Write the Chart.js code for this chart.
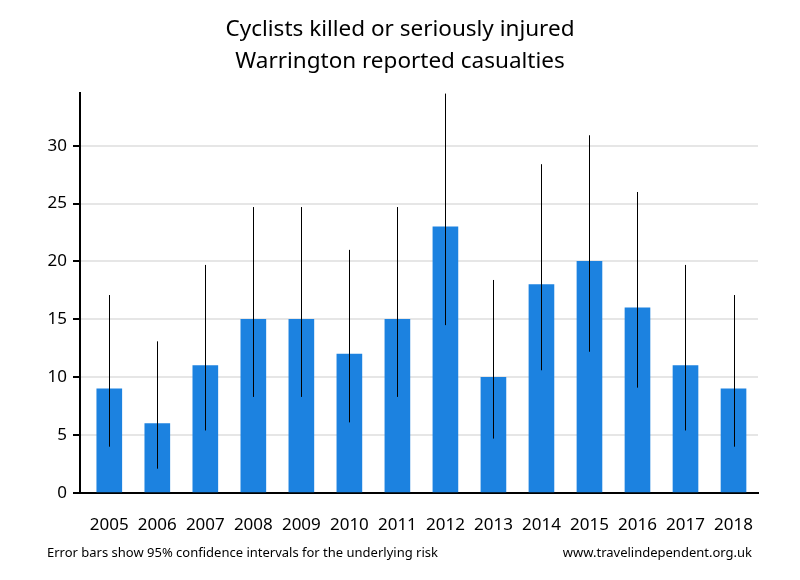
<!DOCTYPE html>
<html>
<head>
<meta charset="utf-8">
<script src="https://cdn.jsdelivr.net/npm/chart.js@4.4.1/dist/chart.umd.min.js"></script>
<style>
  html, body { margin: 0; padding: 0; background: #fff; }
  #wrap { width: 800px; height: 580px; }
</style>
</head>
<body>
<div id="wrap"><canvas id="chart" width="800" height="580"></canvas></div>
<script>
// data
var years = [2005, 2006, 2007, 2008, 2009, 2010, 2011, 2012, 2013, 2014, 2015, 2016, 2017, 2018];
var casualties = [9, 6, 11, 15, 15, 12, 15, 23, 10, 18, 20, 16, 11, 9];
var ciLower = [4.0, 2.1, 5.4, 8.3, 8.3, 6.1, 8.3, 14.5, 4.7, 10.6, 12.2, 9.1, 5.4, 4.0];
var ciUpper = [17.1, 13.1, 19.7, 24.7, 24.7, 21.0, 24.7, 34.5, 18.4, 28.4, 30.9, 26.0, 19.7, 17.1];
var yTicks = [0, 5, 10, 15, 20, 25, 30];
var titleLines = ['Cyclists killed or seriously injured', 'Warrington reported casualties'];

var FONT = "'Noto Sans', 'DejaVu Sans', sans-serif";

// thin black error bars, no caps
var errorBars = {
    id: 'errorBars',
    afterDatasetsDraw: function(chart) {
        var ctx = chart.ctx, xs = chart.scales.x, ys = chart.scales.y, a = chart.chartArea;
        ctx.save();
        ctx.beginPath();
        ctx.rect(a.left, a.top, a.right - a.left, a.bottom - a.top);
        ctx.clip();
        ctx.strokeStyle = '#000';
        ctx.lineWidth = 1;
        for (var i = 0; i < years.length; i++) {
            var x = Math.round(xs.getPixelForValue(years[i])) + 0.5;
            ctx.beginPath();
            ctx.moveTo(x, ys.getPixelForValue(ciLower[i]));
            ctx.lineTo(x, ys.getPixelForValue(ciUpper[i]));
            ctx.stroke();
        }
        ctx.restore();
    }
};

// title centred on the page, footnotes under the axis
var texts = {
    id: 'texts',
    afterDraw: function(chart) {
        var ctx = chart.ctx;
        ctx.save();
        ctx.fillStyle = '#000';
        ctx.textBaseline = 'middle';
        ctx.textAlign = 'center';
        ctx.font = '22.5px ' + FONT;
        ctx.fillText(titleLines[0], 400, 30);
        ctx.fillText(titleLines[1], 400, 62);
        ctx.font = '13px ' + FONT;
        ctx.textAlign = 'left';
        ctx.fillText('Error bars show 95% confidence intervals for the underlying risk', 47, 553);
        ctx.textAlign = 'right';
        ctx.fillText('www.travelindependent.org.uk', 752, 553);
        ctx.restore();
    }
};

var ctx1 = document.getElementById('chart').getContext('2d');
var chart1 = new Chart(ctx1, {
    type: 'bar',
    data: {
        datasets: [{
            label: 'Casualties',
            data: years.map(function(y, i) { return { x: y, y: casualties[i] }; }),
            backgroundColor: '#1c82e0',
            borderWidth: 0,
            barThickness: 25
        }]
    },
    options: {
        responsive: false,
        animation: false,
        layout: { padding: { left: 0, right: 42, top: 93, bottom: 0 } },
        plugins: {
            legend: { display: false },
            tooltip: { enabled: false },
            title: { display: false }
        },
        scales: {
            x: {
                type: 'linear',
                offset: false,
                min: 2004.39,
                max: 2018.51,
                grid: { display: false },
                border: { display: true, color: '#000', width: 2 },
                ticks: {
                    stepSize: 1,
                    includeBounds: false,
                    autoSkip: false,
                    maxRotation: 0,
                    padding: 14,
                    color: '#000',
                    font: { family: FONT, size: 17 },
                    callback: function(v) { return String(v); }
                },
                afterFit: function(s) { s.height = 87; }
            },
            y: {
                min: 0,
                max: 34.55,
                afterBuildTicks: function(s) { s.ticks = yTicks.map(function(v) { return { value: v }; }); },
                grid: { color: '#e6e6e6', lineWidth: 2, tickColor: '#000', tickWidth: 2, tickLength: 7 },
                border: { display: true, color: '#000', width: 2 },
                ticks: {
                    padding: 6,
                    color: '#000',
                    font: { family: FONT, size: 17 }
                },
                afterFit: function(s) { s.width = 80; }
            }
        }
    },
    plugins: [errorBars, texts]
});
</script>
</body>
</html>
